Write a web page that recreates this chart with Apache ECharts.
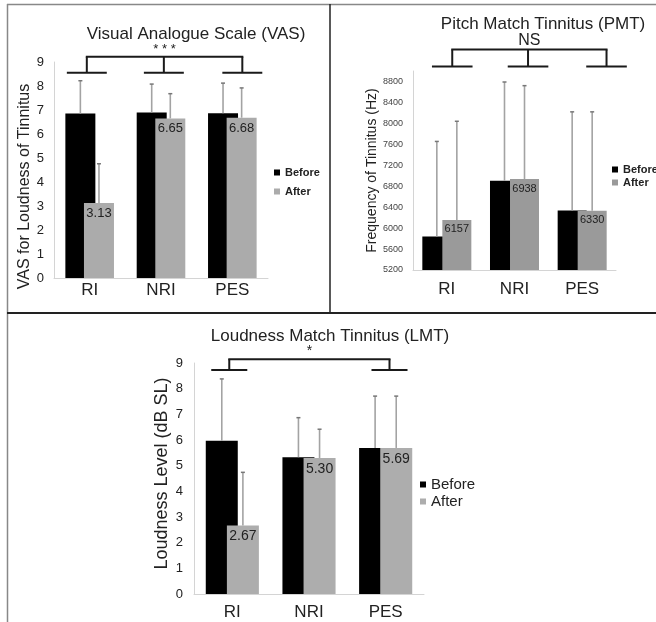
<!DOCTYPE html>
<html>
<head>
<meta charset="utf-8">
<script src="https://cdn.jsdelivr.net/npm/echarts@6/dist/echarts.min.js"></script>
<style>
  html, body { margin: 0; padding: 0; background: #fff; }
  #main { width: 656px; height: 622px; }
</style>
</head>
<body>
<div id="main"></div>
<script>
const categories = ['RI', 'NRI', 'PES'];

// Visual Analogue Scale (VAS)
const vasBefore = [6.85, 6.9, 6.86];
const vasAfter = [3.13, 6.65, 6.68];
const vasBeforeTop = [8.22, 8.08, 8.12];
const vasAfterTop = [4.76, 7.68, 7.92];

// Pitch Match Tinnitus (PMT)
const pmtBefore = [5840, 6903, 6335];
const pmtAfter = [6157, 6938, 6330];
const pmtBeforeTop = [7655, 8790, 8220];
const pmtAfterTop = [8040, 8720, 8220];

// Loudness Match Tinnitus (LMT)
const lmtBefore = [5.97, 5.33, 5.69];
const lmtAfter = [2.67, 5.30, 5.69];
const lmtBeforeTop = [8.38, 6.87, 7.71];
const lmtAfterTop = [4.74, 6.42, 7.71];

// significance brackets: which categories, bracket levels in axis units, label
const vasSig = { cats: [0, 1, 2], low: 8.55, high: 9.22, text: '* * *' };
const pmtSig = { cats: [0, 1, 2], low: 9085, high: 9410, text: 'NS' };
const lmtSig = { cats: [0, 2], low: 8.73, high: 9.15, text: '*' };

const FONT = 'Liberation Sans, Arial, sans-serif';
const chart = echarts.init(document.getElementById('main'));

function errorSeries(idx, name, vals, tops, shift) {
  return {
    type: 'custom',
    name: name + ' err',
    xAxisIndex: idx,
    yAxisIndex: idx,
    z: 5,
    silent: true,
    data: vals.map((v, i) => [i, v, tops[i]]),
    renderItem: function (params, api) {
      const p0 = api.coord([api.value(0), api.value(1)]);
      const p1 = api.coord([api.value(0), api.value(2)]);
      const x = p0[0] + shift;
      return {
        type: 'group',
        children: [
          { type: 'line', shape: { x1: x, y1: p0[1], x2: x, y2: p1[1] },
            style: { stroke: '#a3a3a3', lineWidth: 1.6 } },
          { type: 'line', shape: { x1: x - 2, y1: p1[1], x2: x + 2, y2: p1[1] },
            style: { stroke: '#777', lineWidth: 1.5 } }
        ]
      };
    }
  };
}

function bracketSeries(idx, sig, shifts, half, fontSize) {
  return {
    type: 'custom',
    xAxisIndex: idx,
    yAxisIndex: idx,
    silent: true,
    z: 6,
    data: [[0, sig.low]],
    renderItem: function (params, api) {
      const band = api.size([1, 0])[0];
      const yLow = api.coord([0, sig.low])[1];
      const yHigh = api.coord([0, sig.high])[1];
      const xs = sig.cats.map((c, k) => api.coord([c, sig.low])[0] + shifts[k] * band);
      const st = { stroke: '#1a1a1a', lineWidth: 2, fill: null };
      const kids = [];
      xs.forEach(x => {
        kids.push({ type: 'line', shape: { x1: x - half * band, y1: yLow, x2: x + half * band, y2: yLow }, style: st });
        kids.push({ type: 'line', shape: { x1: x, y1: yLow, x2: x, y2: yHigh }, style: st });
      });
      kids.push({ type: 'line', shape: { x1: xs[0] - 1, y1: yHigh, x2: xs[xs.length - 1] + 1, y2: yHigh }, style: st });
      kids.push({ type: 'text', style: {
        text: sig.text, x: (xs[0] + xs[xs.length - 1]) / 2, y: yHigh - 1,
        align: 'center', verticalAlign: 'bottom', fill: '#222',
        fontSize: fontSize, fontFamily: FONT } });
      return { type: 'group', children: kids };
    }
  };
}

function barPair(idx, before, after, grey, bw, gapPct, labelSize, digits) {
  return [
    { type: 'bar', name: 'Before', xAxisIndex: idx, yAxisIndex: idx, data: before,
      barWidth: bw, barGap: gapPct + '%', itemStyle: { color: '#000' } },
    { type: 'bar', name: 'After', xAxisIndex: idx, yAxisIndex: idx, data: after,
      barWidth: bw, barGap: gapPct + '%', itemStyle: { color: grey },
      label: { show: true, position: 'insideTop', distance: 4, color: '#222',
        fontSize: labelSize, fontFamily: FONT,
        formatter: p => Number(p.value).toFixed(digits) } }
  ];
}

const greyVas = '#ababab', greyPmt = '#9a9a9a', greyLmt = '#adadad';
const bw = [30, 29, 32];
const gp = [-38, -31, -34];
const off = bw.map((w, i) => (w + w * gp[i] / 100) / 2);

const axisGrey = { lineStyle: { color: '#d4d4d4', width: 1 } };

function xAx(idx, margin) {
  return {
    type: 'category', gridIndex: idx, data: categories,
    axisLine: axisGrey, axisTick: { show: false },
    axisLabel: { fontSize: 17, color: '#222', fontFamily: FONT, margin: margin }
  };
}

const option = {
  animation: false,
  backgroundColor: '#fff',
  title: [
    { text: 'Visual Analogue Scale (VAS)', left: 191, top: 21, textAlign: 'center',
      textStyle: { fontSize: 17, fontWeight: 'normal', color: '#222', fontFamily: FONT } },
    { text: 'Pitch Match Tinnitus (PMT)', left: 538, top: 11, textAlign: 'center',
      textStyle: { fontSize: 17, fontWeight: 'normal', color: '#222', fontFamily: FONT } },
    { text: 'Loudness Match Tinnitus (LMT)', left: 325, top: 323, textAlign: 'center',
      textStyle: { fontSize: 17, fontWeight: 'normal', color: '#222', fontFamily: FONT } }
  ],
  legend: [
    { orient: 'vertical', left: 269, top: 162, itemWidth: 6, itemHeight: 6, icon: 'rect', itemGap: 8,
      selectedMode: false,
      textStyle: { fontSize: 11, fontWeight: 'bold', color: '#222', fontFamily: FONT },
      data: [{ name: 'Before', itemStyle: { color: '#000' } }, { name: 'After', itemStyle: { color: greyVas } }] },
    { orient: 'vertical', left: 607, top: 159, itemWidth: 6, itemHeight: 6, icon: 'rect', itemGap: 2,
      selectedMode: false,
      textStyle: { fontSize: 11, fontWeight: 'bold', color: '#222', fontFamily: FONT },
      data: [{ name: 'Before', itemStyle: { color: '#000' } }, { name: 'After', itemStyle: { color: greyPmt } }] },
    { orient: 'vertical', left: 415, top: 472, itemWidth: 6, itemHeight: 6, icon: 'rect', itemGap: 2,
      selectedMode: false,
      textStyle: { fontSize: 15, color: '#222', fontFamily: FONT },
      data: [{ name: 'Before', itemStyle: { color: '#000' } }, { name: 'After', itemStyle: { color: greyLmt } }] }
  ],
  grid: [
    { left: 54, top: 62, width: 214, height: 216 },
    { left: 413, top: 71, width: 203, height: 199 },
    { left: 194, top: 363, width: 230, height: 231 }
  ],
  xAxis: [xAx(0, 4), xAx(1, 11), xAx(2, 10)],
  yAxis: [
    { type: 'value', gridIndex: 0, min: 0, max: 9, interval: 1,
      name: 'VAS for Loudness of Tinnitus', nameLocation: 'middle', nameGap: 20,
      nameTextStyle: { fontSize: 16, color: '#222', fontFamily: FONT, padding: [0, 33, 0, 0] },
      axisLine: Object.assign({ show: true }, axisGrey), axisTick: { show: false }, splitLine: { show: false },
      axisLabel: { fontSize: 13, color: '#222', fontFamily: FONT, margin: 10 } },
    { type: 'value', gridIndex: 1, min: 5200, max: 9000, interval: 400,
      name: 'Frequency of Tinnitus (Hz)', nameLocation: 'middle', nameGap: 34,
      nameTextStyle: { fontSize: 14, color: '#222', fontFamily: FONT },
      axisLine: Object.assign({ show: true }, axisGrey), axisTick: { show: false }, splitLine: { show: false },
      axisLabel: { fontSize: 9, color: '#444', fontFamily: FONT, margin: 10,
        formatter: v => (v > 8800 ? '' : v) } },
    { type: 'value', gridIndex: 2, min: 0, max: 9, interval: 1,
      name: 'Loudness Level (dB SL)', nameLocation: 'middle', nameGap: 23,
      nameTextStyle: { fontSize: 18, color: '#222', fontFamily: FONT, padding: [0, 0, 0, 10] },
      axisLine: Object.assign({ show: true }, axisGrey), axisTick: { show: false }, splitLine: { show: false },
      axisLabel: { fontSize: 13, color: '#222', fontFamily: FONT, margin: 11 } }
  ],
  series: [
    ...barPair(0, vasBefore, vasAfter, greyVas, bw[0], gp[0], 13, 2),
    ...barPair(1, pmtBefore, pmtAfter, greyPmt, bw[1], gp[1], 11, 0),
    ...barPair(2, lmtBefore, lmtAfter, greyLmt, bw[2], gp[2], 14, 2),
    errorSeries(0, 'Before', vasBefore, vasBeforeTop, -off[0]),
    errorSeries(0, 'After', vasAfter, vasAfterTop, off[0]),
    errorSeries(1, 'Before', pmtBefore, pmtBeforeTop, -off[1]),
    errorSeries(1, 'After', pmtAfter, pmtAfterTop, off[1]),
    errorSeries(2, 'Before', lmtBefore, lmtBeforeTop, -off[2]),
    errorSeries(2, 'After', lmtAfter, lmtAfterTop, off[2]),
    bracketSeries(0, vasSig, [-0.04, 0.04, 0.14], 0.28, 13),
    bracketSeries(1, pmtSig, [0.08, 0.2, 0.36], 0.3, 16),
    bracketSeries(2, lmtSig, [-0.04, 0.05], 0.235, 14)
  ],
  graphic: [
    { type: 'line', shape: { x1: 7.5, y1: 4, x2: 7.5, y2: 622 }, style: { stroke: '#888', lineWidth: 1.5 } },
    { type: 'line', shape: { x1: 7, y1: 4.5, x2: 656, y2: 4.5 }, style: { stroke: '#888', lineWidth: 1.5 } },
    { type: 'line', shape: { x1: 330, y1: 4, x2: 330, y2: 313 }, style: { stroke: '#222', lineWidth: 1.5 } },
    { type: 'line', shape: { x1: 7, y1: 313, x2: 656, y2: 313 }, style: { stroke: '#222', lineWidth: 2 } }
  ]
};

chart.setOption(option);
</script>
</body>
</html>
